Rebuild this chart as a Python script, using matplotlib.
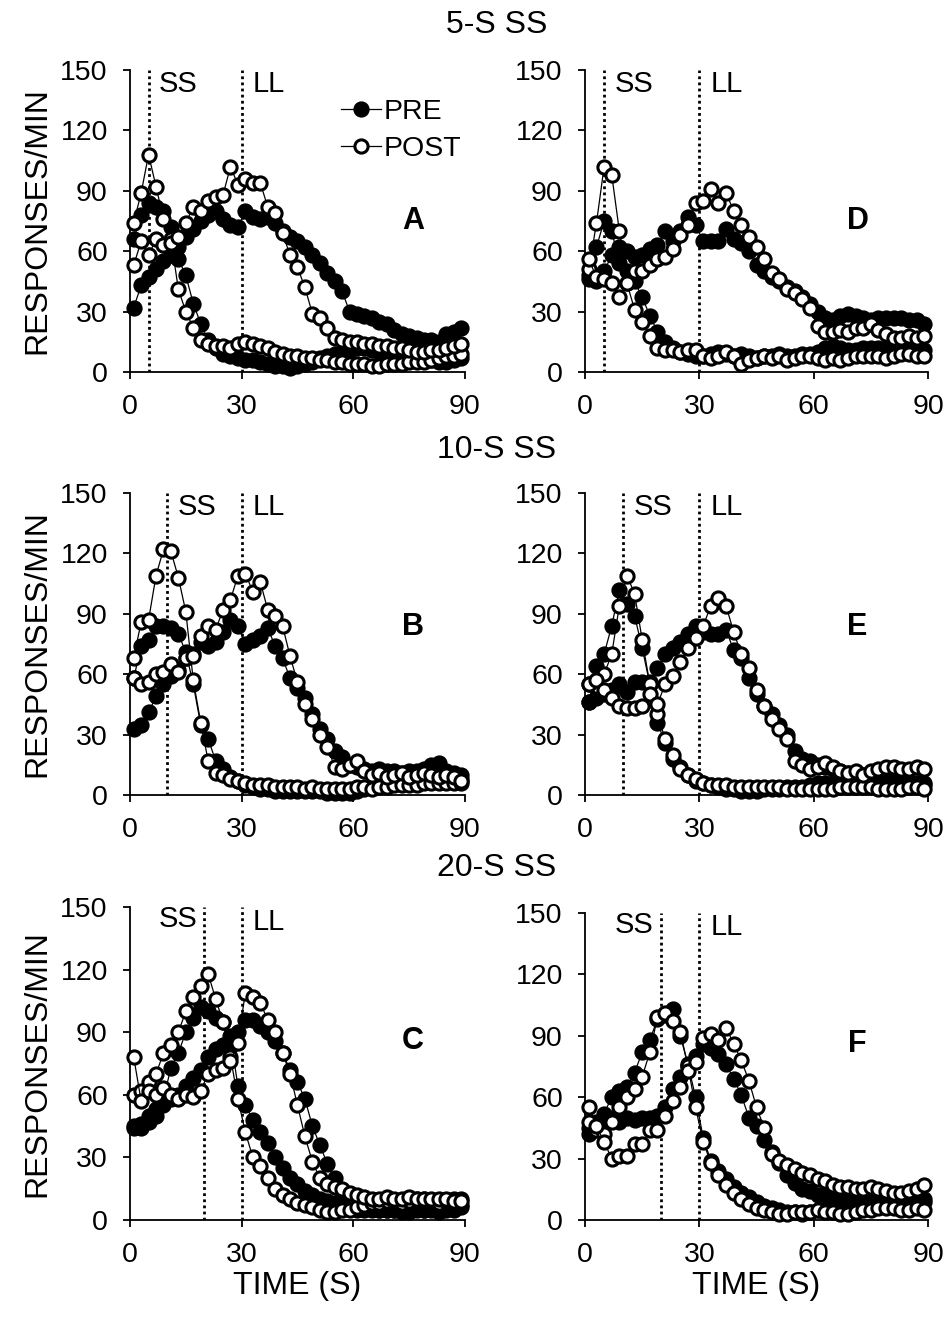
import matplotlib
matplotlib.use('Agg')
import matplotlib.pyplot as plt
from matplotlib.lines import Line2D

plt.rcParams['font.family'] = ['Liberation Sans', 'DejaVu Sans']

# time bins (s), 2-s bins centred on odd seconds
t = list(range(1, 90, 2))

# panel A (5-s SS, left)
a_pre_ss = [66, 78, 84, 82, 80, 72, 56, 48, 34, 24, 16, 12, 9, 8, 7, 6, 6, 5, 4, 3,
            3, 2, 3, 4, 5, 7, 8, 9, 10, 11, 12, 12, 11, 10, 9, 8, 8, 7, 6, 6, 6, 5, 5, 6, 7]
a_post_ss = [74, 89, 108, 92, 76, 66, 41, 30, 22, 16, 14, 13, 13, 12, 14, 15, 14, 13, 12, 10,
             9, 8, 8, 7, 7, 6, 6, 5, 5, 4, 4, 4, 3, 3, 4, 4, 4, 5, 5, 5, 6, 7, 8, 8, 9]
a_pre_ll = [32, 43, 47, 51, 55, 58, 62, 67, 71, 75, 78, 80, 76, 73, 72, 80, 77, 76, 77, 74,
            70, 67, 65, 62, 58, 54, 49, 45, 40, 30, 29, 28, 27, 25, 24, 21, 19, 18, 17, 16, 16, 15, 19, 20, 22]
a_post_ll = [53, 65, 58, 66, 63, 64, 67, 74, 82, 80, 85, 87, 88, 102, 93, 96, 94, 94, 82, 79,
             69, 58, 52, 42, 29, 27, 22, 17, 16, 15, 15, 14, 14, 13, 13, 12, 12, 11, 10, 10, 11, 11, 12, 13, 14]

# panel D (5-s SS, right)
d_pre_ss = [48, 62, 75, 70, 54, 50, 45, 37, 28, 20, 15, 12, 10, 9, 8, 8, 9, 10, 9, 8,
            9, 8, 7, 8, 8, 9, 8, 8, 9, 9, 10, 12, 13, 12, 11, 11, 12, 12, 12, 12, 13, 13, 12, 12, 11]
d_post_ss = [51, 74, 102, 98, 70, 44, 31, 25, 18, 12, 11, 11, 10, 11, 11, 8, 7, 8, 10, 8,
             4, 6, 7, 8, 7, 8, 6, 7, 8, 8, 7, 6, 7, 6, 7, 8, 8, 8, 8, 7, 8, 9, 9, 8, 8]
d_pre_ll = [46, 45, 50, 58, 62, 60, 57, 58, 61, 63, 70, 65, 70, 77, 73, 65, 65, 65, 71, 66,
            64, 60, 53, 50, 47, 45, 42, 40, 37, 34, 30, 27, 26, 28, 29, 28, 27, 26, 27, 27, 27, 27, 26, 26, 24]
d_post_ll = [56, 47, 46, 44, 37, 44, 50, 50, 53, 56, 57, 61, 68, 73, 84, 85, 91, 84, 89, 80,
             73, 67, 62, 56, 49, 46, 41, 39, 36, 32, 23, 20, 20, 21, 20, 22, 22, 24, 21, 19, 17, 17, 18, 17, 18]

# panel B (10-s SS, left)
b_pre_ss = [58, 74, 77, 84, 84, 83, 80, 71, 55, 35, 28, 17, 13, 9, 7, 5, 4, 3, 3, 2,
            2, 2, 2, 2, 2, 2, 1, 1, 1, 1, 2, 3, 4, 5, 6, 6, 7, 7, 8, 8, 9, 9, 8, 8, 8]
b_post_ss = [68, 86, 87, 109, 122, 121, 108, 91, 57, 36, 17, 11, 10, 8, 7, 6, 5, 5, 5, 4,
             4, 4, 4, 3, 4, 3, 3, 3, 3, 3, 4, 4, 3, 4, 4, 5, 5, 5, 5, 6, 6, 6, 6, 6, 6]
b_pre_ll = [33, 35, 41, 49, 55, 59, 62, 68, 70, 76, 74, 76, 81, 87, 84, 75, 77, 79, 83, 74,
            68, 58, 53, 48, 40, 33, 28, 22, 19, 15, 14, 13, 12, 13, 12, 12, 11, 12, 12, 13, 15, 16, 12, 11, 10]
b_post_ll = [58, 55, 56, 60, 61, 65, 61, 68, 69, 79, 84, 82, 92, 97, 109, 110, 101, 106, 92, 89,
             84, 69, 56, 45, 38, 30, 24, 14, 13, 15, 17, 12, 10, 11, 9, 10, 11, 9, 10, 11, 10, 9, 10, 9, 7]

# panel E (10-s SS, right)
e_pre_ss = [46, 64, 70, 84, 102, 95, 89, 73, 55, 36, 26, 18, 14, 10, 7, 6, 5, 4, 3, 3,
            2, 2, 2, 3, 3, 3, 4, 4, 4, 5, 6, 6, 6, 6, 6, 6, 5, 5, 5, 6, 6, 6, 6, 6, 5]
e_post_ss = [55, 54, 60, 70, 94, 109, 100, 77, 55, 40, 28, 20, 13, 10, 8, 6, 5, 5, 5, 4,
             4, 4, 4, 4, 4, 4, 3, 3, 3, 3, 3, 3, 3, 4, 4, 4, 4, 4, 3, 3, 3, 3, 4, 4, 3]
e_pre_ll = [46, 48, 50, 52, 55, 51, 56, 56, 56, 63, 70, 73, 76, 80, 84, 81, 80, 80, 82, 72,
            68, 58, 50, 44, 40, 35, 30, 22, 18, 17, 15, 14, 13, 12, 11, 11, 10, 10, 9, 8, 8, 7, 7, 6, 6]
e_post_ll = [55, 57, 52, 48, 44, 43, 43, 44, 50, 45, 55, 59, 66, 73, 78, 84, 94, 98, 94, 81,
             70, 63, 52, 44, 38, 33, 28, 17, 15, 13, 14, 16, 14, 12, 11, 12, 10, 12, 13, 14, 14, 13, 13, 14, 13]

# panel C (20-s SS, left)
c_pre_ss = [44, 46, 50, 53, 58, 73, 80, 90, 97, 102, 100, 97, 95, 88, 64, 55, 48, 42, 37, 30,
            25, 20, 17, 14, 12, 10, 9, 8, 7, 6, 5, 5, 5, 5, 5, 5, 4, 4, 5, 5, 5, 4, 5, 5, 6]
c_post_ss = [60, 62, 66, 70, 80, 84, 90, 100, 107, 112, 118, 106, 95, 78, 58, 42, 30, 26, 20, 15,
             12, 10, 8, 7, 6, 5, 4, 4, 5, 5, 6, 7, 8, 8, 9, 9, 8, 9, 10, 10, 9, 8, 9, 10, 10]
c_pre_ll = [45, 44, 47, 50, 55, 58, 60, 64, 68, 72, 78, 82, 84, 83, 90, 96, 96, 93, 90, 86,
            80, 72, 66, 58, 45, 36, 27, 20, 14, 10, 8, 7, 6, 5, 5, 5, 5, 6, 6, 5, 6, 6, 6, 7, 7]
c_post_ll = [78, 57, 62, 60, 63, 60, 58, 60, 59, 62, 70, 72, 73, 76, 85, 109, 107, 104, 96, 90,
             80, 70, 55, 40, 28, 20, 17, 16, 15, 13, 12, 11, 10, 10, 11, 10, 10, 11, 10, 10, 10, 10, 10, 9, 9]

# panel F (20-s SS, right)
f_pre_ss = [42, 45, 52, 60, 63, 65, 72, 82, 88, 98, 100, 103, 90, 76, 60, 40, 29, 24, 20, 16,
            13, 11, 9, 7, 6, 5, 4, 4, 3, 4, 5, 5, 6, 6, 7, 7, 7, 7, 8, 8, 8, 8, 9, 9, 9]
f_post_ss = [48, 44, 42, 48, 55, 60, 64, 70, 82, 99, 101, 97, 92, 75, 55, 38, 28, 22, 17, 13,
             10, 8, 6, 5, 4, 3, 3, 4, 4, 4, 5, 4, 4, 3, 3, 4, 5, 5, 6, 6, 6, 5, 5, 6, 5]
f_pre_ll = [45, 48, 47, 50, 48, 50, 49, 50, 50, 51, 55, 64, 70, 75, 80, 86, 84, 81, 76, 69,
            61, 50, 46, 39, 33, 28, 22, 18, 15, 14, 12, 12, 11, 11, 10, 10, 10, 9, 9, 9, 8, 8, 9, 10, 10]
f_post_ll = [55, 46, 38, 30, 31, 31, 37, 37, 44, 44, 51, 58, 65, 73, 77, 89, 91, 88, 94, 86,
             78, 68, 55, 45, 32, 29, 27, 25, 23, 22, 20, 19, 17, 16, 16, 15, 15, 16, 15, 14, 13, 13, 14, 15, 17]

ss_times = [5, 10, 20]
ll_time = 30
row_titles = ['5-S SS', '10-S SS', '20-S SS']

panels = [
    # letter, row, col, pre series, post series, axes rect
    ('A', 0, 0, [a_pre_ss, a_pre_ll], [a_post_ss, a_post_ll], [0.1364, 0.7182, 0.3515, 0.2288]),
    ('D', 0, 1, [d_pre_ss, d_pre_ll], [d_post_ss, d_post_ll], [0.6139, 0.7182, 0.3599, 0.2288]),
    ('B', 1, 0, [b_pre_ss, b_pre_ll], [b_post_ss, b_post_ll], [0.1364, 0.3977, 0.3515, 0.2288]),
    ('E', 1, 1, [e_pre_ss, e_pre_ll], [e_post_ss, e_post_ll], [0.6139, 0.3977, 0.3599, 0.2288]),
    ('C', 2, 0, [c_pre_ss, c_pre_ll], [c_post_ss, c_post_ll], [0.1364, 0.0758, 0.3515, 0.2371]),
    ('F', 2, 1, [f_pre_ss, f_pre_ll], [f_post_ss, f_post_ll], [0.6139, 0.0758, 0.3599, 0.2326]),
]

MS = 9.5
MEW = 2.2

fig = plt.figure(figsize=(9.53, 13.2), dpi=100)

for letter, row, col, pres, posts, rect in panels:
    ax = fig.add_axes(rect)
    ss = ss_times[row]
    ax.axvline(ss, color='black', linestyle=(0, (1, 1.2)), lw=2.0, zorder=1)
    ax.axvline(ll_time, color='black', linestyle=(0, (1, 1.2)), lw=2.0, zorder=1)

    for ys in pres:
        ax.plot(t, ys, color='black', lw=0.9, marker='o', ms=MS,
                mfc='black', mec='black', mew=MEW, clip_on=False, zorder=3)
    for ys in posts:
        ax.plot(t, ys, color='black', lw=0.9, marker='o', ms=MS,
                mfc='white', mec='black', mew=MEW, clip_on=False, zorder=4)

    ax.set_xlim(0, 90)
    ax.set_ylim(0, 150)
    ax.set_xticks([0, 30, 60, 90])
    ax.set_yticks([0, 30, 60, 90, 120, 150])
    ax.spines['top'].set_visible(False)
    ax.spines['right'].set_visible(False)
    ax.spines['left'].set_linewidth(1.3)
    ax.spines['bottom'].set_linewidth(1.3)
    ax.tick_params(direction='out', length=5, width=1.3, labelsize=20.5)
    ax.tick_params(axis='y', pad=11)
    ax.tick_params(axis='x', pad=11)

    # SS / LL labels
    if row < 2:
        ax.text(ss + 2.8, 143, 'SS', fontsize=21, ha='left', va='center')
    else:
        ax.text(ss - 2, 144, 'SS', fontsize=21, ha='right', va='center')
    ax.text(ll_time + 3, 143, 'LL', fontsize=21, ha='left', va='center')

    letter_x = 76 if col == 0 else 71.5
    letter_y = [75, 83.5, 86][row]
    ax.text(letter_x, letter_y, letter, fontsize=22, fontweight='bold',
            ha='center', va='center')

    if col == 0:
        ax.set_ylabel('RESPONSES/MIN', fontsize=23, labelpad=6)
    if row == 2:
        ax.set_xlabel('TIME (S)', fontsize=23, labelpad=2)

    if letter == 'A':
        handles = [
            Line2D([], [], color='black', lw=0.9, marker='o', ms=MS, mfc='black', mec='black', mew=MEW),
            Line2D([], [], color='black', lw=0.9, marker='o', ms=MS, mfc='white', mec='black', mew=MEW),
        ]
        ax.legend(handles, ['PRE', 'POST'], loc='upper left', bbox_to_anchor=(0.57, 0.97),
                  frameon=False, fontsize=20.5, handlelength=1.4, handletextpad=0.1,
                  labelspacing=0.4, borderpad=0.2)

for i, title in enumerate(row_titles):
    y_px = [25, 450, 868][i]
    fig.text(497 / 953, 1 - y_px / 1320, title, fontsize=23, ha='center', va='center')

fig.savefig('out.png', dpi=100)
